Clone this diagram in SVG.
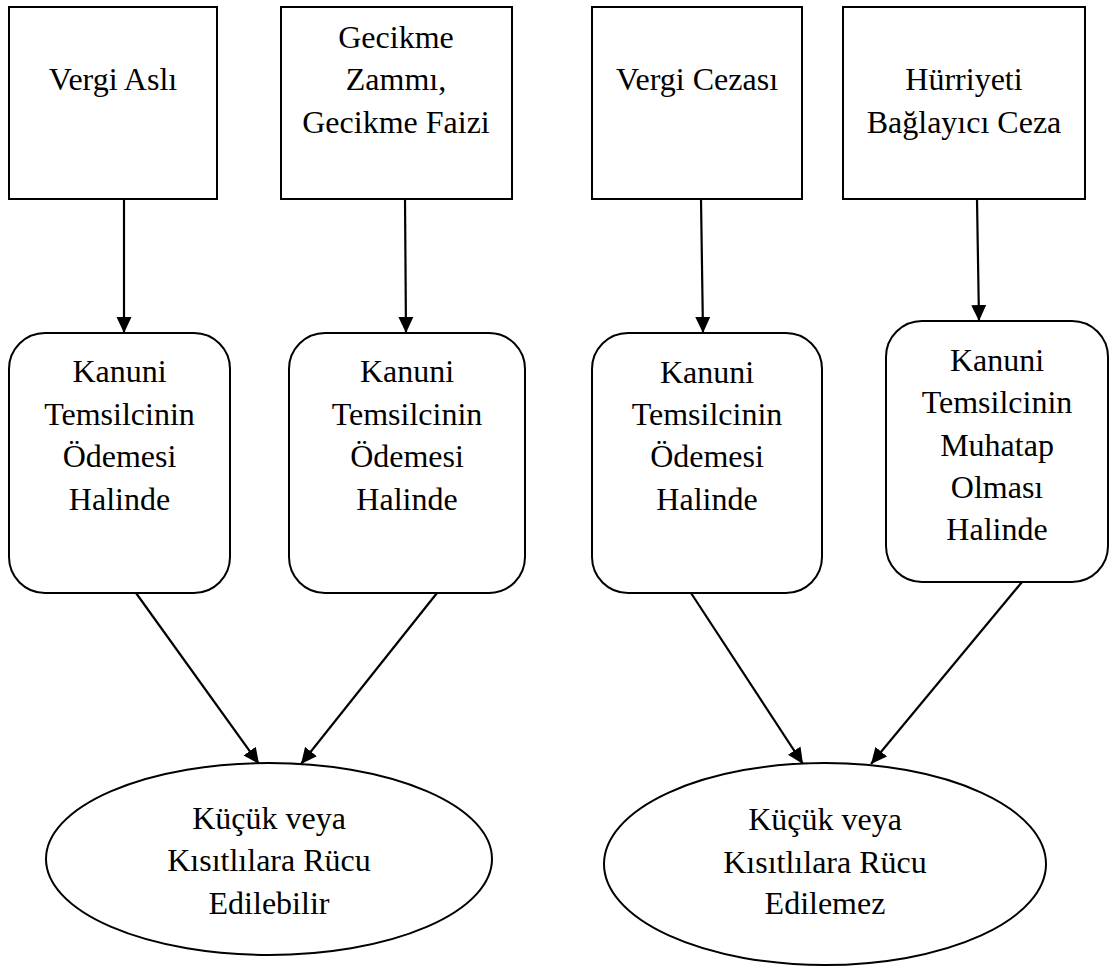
<svg xmlns="http://www.w3.org/2000/svg" width="1111" height="967" viewBox="0 0 1111 967">
<style>
.box{fill:#fff;stroke:#000;stroke-width:2}
.ell{fill:#fff;stroke:#000;stroke-width:2}
.t{font-family:"Liberation Serif","Times New Roman",serif;font-size:32px;fill:#000;text-anchor:middle}
.c{stroke:#000;stroke-width:2.2;fill:none;marker-end:url(#ah)}
</style>
<defs>
<marker id="ah" markerUnits="userSpaceOnUse" markerWidth="16" markerHeight="16" refX="16" refY="7.5" orient="auto" viewBox="0 0 16 15">
<path d="M0,0 L16,7.5 L0,15 z" fill="#000"/>
</marker>
</defs>
<rect width="1111" height="967" fill="#fff"/>
<g id="connectors">
<line class="c" x1="124" y1="199" x2="124" y2="333"/>
<line class="c" x1="405" y1="199" x2="406" y2="333"/>
<line class="c" x1="701" y1="199" x2="703" y2="333"/>
<line class="c" x1="977" y1="199" x2="979" y2="321"/>
<line class="c" x1="136" y1="593" x2="259" y2="764"/>
<line class="c" x1="437" y1="593" x2="301" y2="764"/>
<line class="c" x1="691" y1="593" x2="803" y2="764"/>
<line class="c" x1="1022" y1="582" x2="871" y2="764"/>
</g>
<g id="n-vergi-asli">
<rect class="box" x="9" y="7" width="208" height="192"/>
<text class="t" x="113" y="90">Vergi Aslı</text>
</g>
<g id="n-gecikme">
<rect class="box" x="281" y="7" width="231" height="192"/>
<text class="t" x="396" y="48">Gecikme</text>
<text class="t" x="396" y="90">Zammı,</text>
<text class="t" x="396" y="133">Gecikme Faizi</text>
</g>
<g id="n-vergi-cezasi">
<rect class="box" x="592" y="7" width="210" height="192"/>
<text class="t" x="697" y="90">Vergi Cezası</text>
</g>
<g id="n-hurriyeti">
<rect class="box" x="843" y="7" width="242" height="192"/>
<text class="t" x="964" y="90">Hürriyeti</text>
<text class="t" x="964" y="133">Bağlayıcı Ceza</text>
</g>
<g id="n-kt1">
<rect class="box" x="9" y="333" width="221" height="260" rx="36" ry="36"/>
<text class="t" x="119.5" y="382">Kanuni</text>
<text class="t" x="119.5" y="425">Temsilcinin</text>
<text class="t" x="119.5" y="467">Ödemesi</text>
<text class="t" x="119.5" y="510">Halinde</text>
</g>
<g id="n-kt2">
<rect class="box" x="289" y="333" width="236" height="260" rx="36" ry="36"/>
<text class="t" x="407" y="382">Kanuni</text>
<text class="t" x="407" y="425">Temsilcinin</text>
<text class="t" x="407" y="467">Ödemesi</text>
<text class="t" x="407" y="510">Halinde</text>
</g>
<g id="n-kt3">
<rect class="box" x="592" y="333" width="230" height="260" rx="36" ry="36"/>
<text class="t" x="707" y="383">Kanuni</text>
<text class="t" x="707" y="425">Temsilcinin</text>
<text class="t" x="707" y="467">Ödemesi</text>
<text class="t" x="707" y="510">Halinde</text>
</g>
<g id="n-kt4">
<rect class="box" x="886" y="321" width="222" height="261" rx="36" ry="36"/>
<text class="t" x="997" y="371">Kanuni</text>
<text class="t" x="997" y="413">Temsilcinin</text>
<text class="t" x="997" y="456">Muhatap</text>
<text class="t" x="997" y="498">Olması</text>
<text class="t" x="997" y="540">Halinde</text>
</g>
<g id="n-edilebilir">
<ellipse class="ell" cx="269" cy="859" rx="223" ry="96"/>
<text class="t" x="269" y="829">Küçük veya</text>
<text class="t" x="269" y="871">Kısıtlılara Rücu</text>
<text class="t" x="269" y="914">Edilebilir</text>
</g>
<g id="n-edilemez">
<ellipse class="ell" cx="825" cy="864" rx="221" ry="101"/>
<text class="t" x="825" y="830">Küçük veya</text>
<text class="t" x="825" y="873">Kısıtlılara Rücu</text>
<text class="t" x="825" y="914">Edilemez</text>
</g>
</svg>
